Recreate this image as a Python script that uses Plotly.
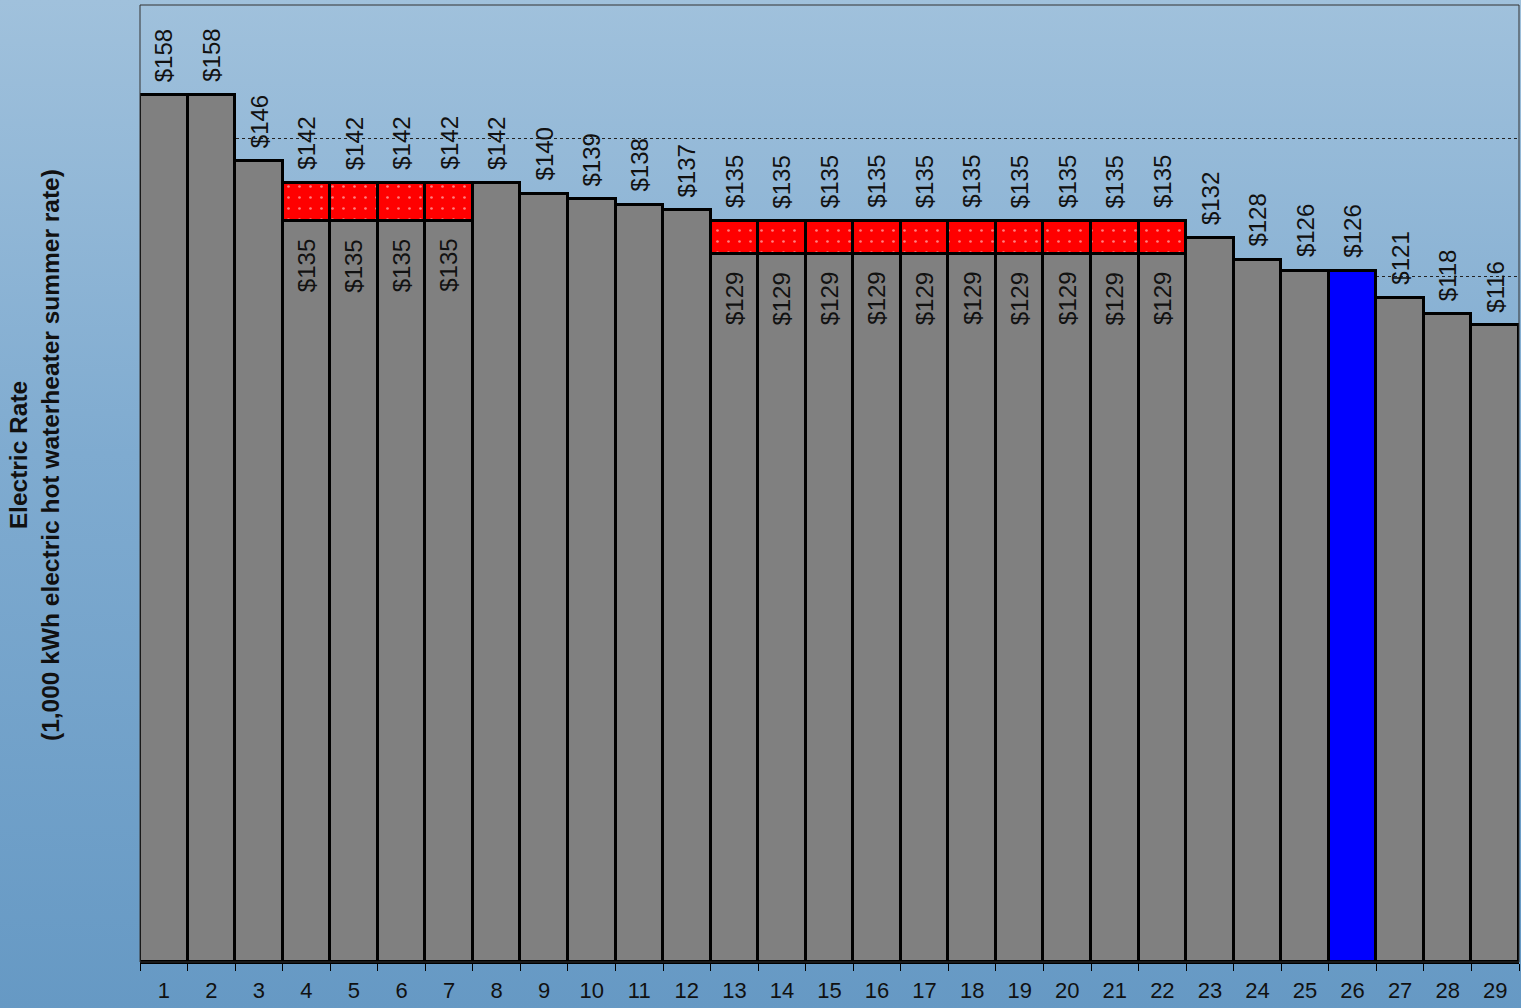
import base64
import plotly.graph_objects as go

categories = [str(i) for i in range(1, 30)]
top_values = [158, 158, 146, 142, 142, 142, 142, 142, 140, 139, 138, 137,
              135, 135, 135, 135, 135, 135, 135, 135, 135, 135,
              132, 128, 126, 126, 121, 118, 116]
# lower (alternate) rate for bars that show a red band; None where no band
lower_values = [None, None, None, 135, 135, 135, 135, None, None, None, None, None,
                129, 129, 129, 129, 129, 129, 129, 129, 129, 129,
                None, None, None, None, None, None, None]
highlight = "26"

base_vals = [lv if lv is not None else tv for tv, lv in zip(top_values, lower_values)]
band_vals = [(tv - lv) if lv is not None else 0 for tv, lv in zip(top_values, lower_values)]
base_colors = ["#0000ff" if c == highlight else "#808080" for c in categories]

fig = go.Figure()
fig.add_trace(go.Bar(
    x=categories, y=base_vals,
    marker=dict(color=base_colors, line=dict(color="black", width=3)),
    hoverinfo="skip", showlegend=False,
))
fig.add_trace(go.Bar(
    x=categories, y=band_vals,
    marker=dict(color="red", line=dict(color="black", width=3),
                pattern=dict(shape=".", fgcolor="white", bgcolor="red",
                             size=11, solidity=0.045)),
    hoverinfo="skip", showlegend=False,
))

font_family = "Arial, Liberation Sans, sans-serif"
annotations = []
for i, (c, tv, lv) in enumerate(zip(categories, top_values, lower_values)):
    annotations.append(dict(
        x=i, y=tv, xref="x", yref="y", text=f"${tv}", showarrow=False,
        textangle=-90, yanchor="bottom", xanchor="center", yshift=11,
        font=dict(family=font_family, size=24, color="#111111"),
    ))
    if lv is not None:
        annotations.append(dict(
            x=i, y=lv, xref="x", yref="y", text=f"${lv}", showarrow=False,
            textangle=-90, yanchor="top", xanchor="center", yshift=-16,
            font=dict(family=font_family, size=24, color="#111111"),
        ))

annotations.append(dict(
    x=-0.076, y=0.53, xref="paper", yref="paper", showarrow=False,
    text="<b>Electric Rate</b><br><b>(1,000 kWh electric hot waterheater summer rate)</b>",
    textangle=-90, xanchor="center", yanchor="middle", align="center",
    font=dict(family=font_family, size=24.5, color="#111111"),
))

svg = ('<svg xmlns="http://www.w3.org/2000/svg" width="100" height="100" preserveAspectRatio="none">'
       '<defs><linearGradient id="g" x1="0" y1="0" x2="0" y2="1">'
       '<stop offset="0" stop-color="#a0c1dc"/>'
       '<stop offset="0.45" stop-color="#7fabd0"/>'
       '<stop offset="1" stop-color="#6699c4"/>'
       '</linearGradient></defs><rect width="100" height="100" fill="url(#g)"/></svg>')
src = "data:image/svg+xml;base64," + base64.b64encode(svg.encode()).decode()

W, H = 1521, 1008
ml, mr, mt, mb = 140, 2, 5, 46
pw, ph = W - ml - mr, H - mt - mb

fig.update_layout(
    width=W, height=H,
    margin=dict(l=ml, r=mr, t=mt, b=mb),
    barmode="stack", bargap=0,
    paper_bgcolor="#7aa7cf", plot_bgcolor="rgba(0,0,0,0)",
    font=dict(family=font_family, color="#111111"),
    annotations=annotations,
    images=[dict(source=src, xref="paper", yref="paper",
                 x=-ml / pw, y=1 + mt / ph, sizex=W / pw, sizey=H / ph,
                 xanchor="left", yanchor="top", sizing="stretch", layer="below")],
    shapes=[dict(type="rect", xref="paper", yref="paper", x0=0, x1=1, y0=0, y1=1,
                 line=dict(color="#333333", width=1), layer="above")],
    xaxis=dict(
        type="category", tickson="boundaries", ticks="outside", ticklen=7,
        tickwidth=1, tickcolor="black", showline=True, linecolor="black", linewidth=2,
        tickfont=dict(size=22, family=font_family, color="#111111"),
        ticklabelstandoff=8,
        showgrid=False, range=[-0.5, 28.5],
    ),
    yaxis=dict(
        range=[0, 174.4], showticklabels=False, ticks="", dtick=25,
        showgrid=True, gridcolor="#222222", griddash="dot", gridwidth=1,
        zeroline=False, showline=False,
    ),
)

fig.write_html("out.html", config={"displayModeBar": False},
               post_script="document.body.style.margin='0';document.body.style.overflow='hidden';")
